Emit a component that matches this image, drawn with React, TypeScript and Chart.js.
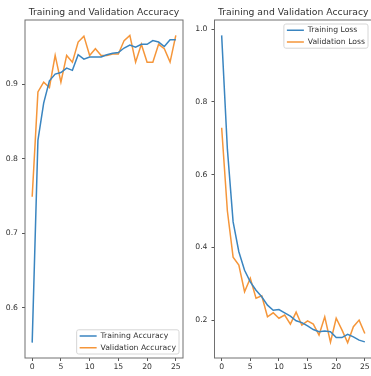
import React, { useEffect, useRef } from 'react';
import { Chart, registerables } from 'chart.js';

Chart.register(...registerables);

// ---- data ----
const epochs = [0, 1, 2, 3, 4, 5, 6, 7, 8, 9, 10, 11, 12, 13, 14, 15, 16, 17, 18, 19, 20, 21, 22, 23, 24, 25];
const trainAcc = [0.553, 0.825, 0.875, 0.905, 0.914, 0.916, 0.922, 0.919, 0.940, 0.934, 0.937, 0.937, 0.937, 0.940, 0.942, 0.943, 0.949, 0.953, 0.950, 0.954, 0.954, 0.959, 0.957, 0.951, 0.960, 0.960];
const valAcc = [0.749, 0.890, 0.903, 0.896, 0.939, 0.903, 0.939, 0.930, 0.957, 0.965, 0.939, 0.948, 0.939, 0.939, 0.941, 0.941, 0.959, 0.966, 0.930, 0.954, 0.930, 0.930, 0.954, 0.948, 0.930, 0.966];
const trainLoss = [0.983, 0.670, 0.470, 0.388, 0.337, 0.305, 0.282, 0.264, 0.241, 0.227, 0.229, 0.220, 0.211, 0.198, 0.193, 0.184, 0.174, 0.168, 0.170, 0.168, 0.152, 0.152, 0.161, 0.154, 0.145, 0.140];
const valLoss = [0.729, 0.500, 0.373, 0.351, 0.278, 0.315, 0.260, 0.267, 0.209, 0.220, 0.205, 0.214, 0.189, 0.222, 0.186, 0.198, 0.189, 0.159, 0.209, 0.139, 0.205, 0.173, 0.138, 0.182, 0.200, 0.163];
const xTicks = [0, 5, 10, 15, 20, 25];
const accTicks = [0.6, 0.7, 0.8, 0.9];
const lossTicks = [0.2, 0.4, 0.6, 0.8, 1.0];
const leftTitle = 'Training and Validation Accuracy';
const rightTitle = 'Training and Validation Accuracy';
const accLabels = ['Training Accuracy', 'Validation Accuracy'];
const lossLabels = ['Training Loss', 'Validation Loss'];

// ---- style ----
const FONT = 'DejaVu Sans';
const TICK_SIZE = 7.7;
const TITLE_SIZE = 9.25;
const TEXT = '#333333';
const BLUE = '#3a85c0';
const ORANGE = '#f5963a';
const SPINE = '#707070';
const LEG_PAD = 4;
const LEG_LINE = 17;

function paddedRange(arrs: number[][]) {
  const all = arrs.flat();
  const lo = Math.min(...all);
  const hi = Math.max(...all);
  const m = (hi - lo) * 0.05;
  return { min: lo - m, max: hi + m };
}

const mplPlugin = {
  id: 'mplLook',
  afterLayout(chart: any, _args: any, opts: any) {
    const lg = chart.legend;
    if (!lg) return;
    const ca = chart.chartArea;
    const ctx = chart.ctx;
    ctx.save();
    ctx.font = `${TICK_SIZE}px "${FONT}"`;
    const texts = chart.data.datasets.map((d: any) => d.label);
    const tw = Math.max(...texts.map((t: string) => ctx.measureText(t).width));
    ctx.restore();
    const n = texts.length;
    const contentW = LEG_LINE + TICK_SIZE / 2 + tw;
    const rowsH = n * TICK_SIZE + (n - 1) * LEG_PAD;
    const innerH = 3;
    const innerV = 2.4;
    const gap = 4;
    const fw = contentW + 2 * innerH;
    const fh = rowsH + 2 * innerV;
    const fx = ca.right - gap - fw;
    const fy = opts.corner === 'bottom' ? ca.bottom - gap - fh : ca.top + gap;
    chart.$legFrame = { x: fx, y: fy, w: fw, h: fh };
    lg.left = fx + innerH - LEG_PAD;
    lg.top = fy + innerV - LEG_PAD;
    lg.width = fw + 2 * LEG_PAD + 10;
    lg.height = fh + 2 * LEG_PAD + 10;
    lg.right = lg.left + lg.width;
    lg.bottom = lg.top + lg.height;
  },
  beforeDraw(chart: any) {
    const f = chart.$legFrame;
    if (!f) return;
    const ctx = chart.ctx;
    ctx.save();
    ctx.beginPath();
    if (ctx.roundRect) ctx.roundRect(f.x, f.y, f.w, f.h, 2);
    else ctx.rect(f.x, f.y, f.w, f.h);
    ctx.fillStyle = 'rgba(255,255,255,0.8)';
    ctx.fill();
    ctx.strokeStyle = '#d6d6d6';
    ctx.lineWidth = 1;
    ctx.stroke();
    ctx.restore();
  },
  afterDraw(chart: any) {
    const ca = chart.chartArea;
    const ctx = chart.ctx;
    ctx.save();
    ctx.strokeStyle = SPINE;
    ctx.lineWidth = 1;
    ctx.strokeRect(ca.left, ca.top, ca.right - ca.left, ca.bottom - ca.top);
    ctx.restore();
  },
};

function makeConfig(
  title: string,
  labels: string[],
  a: number[],
  b: number[],
  yTicks: number[],
  corner: string,
  yWidth: number,
  rightPad: number
): any {
  const yr = paddedRange([a, b]);
  const xr = paddedRange([epochs]);
  const mk = (arr: number[]) => epochs.map((e, i) => ({ x: e, y: arr[i] }));
  return {
    type: 'line',
    data: {
      datasets: [
        { label: labels[0], data: mk(a), borderColor: BLUE, backgroundColor: BLUE, borderWidth: 1.5, pointRadius: 0, tension: 0 },
        { label: labels[1], data: mk(b), borderColor: ORANGE, backgroundColor: ORANGE, borderWidth: 1.5, pointRadius: 0, tension: 0 },
      ],
    },
    options: {
      responsive: false,
      animation: false,
      devicePixelRatio: 1,
      layout: { padding: { left: 0, right: rightPad, top: 0, bottom: 0 } },
      plugins: {
        tooltip: { enabled: false },
        title: {
          display: true,
          text: title,
          fullSize: false,
          color: TEXT,
          font: { family: FONT, size: TITLE_SIZE, weight: 'normal' },
          padding: { top: 7, bottom: 1.9 },
        },
        legend: {
          display: true,
          position: 'chartArea',
          align: 'start',
          labels: {
            usePointStyle: true,
            pointStyle: 'line',
            pointStyleWidth: LEG_LINE,
            padding: LEG_PAD,
            color: TEXT,
            font: { family: FONT, size: TICK_SIZE },
          },
        },
        mplLook: { corner },
      },
      scales: {
        x: {
          type: 'linear',
          min: xr.min,
          max: xr.max,
          afterBuildTicks: (s: any) => { s.ticks = xTicks.map((v) => ({ value: v })); },
          afterFit: (s: any) => { s.height = 18; },
          ticks: { color: TEXT, font: { family: FONT, size: TICK_SIZE }, padding: 1, maxRotation: 0, autoSkip: false },
          grid: { display: true, drawOnChartArea: false, drawTicks: true, tickLength: 3, color: '#555' },
          border: { display: false },
        },
        y: {
          type: 'linear',
          min: yr.min,
          max: yr.max,
          afterBuildTicks: (s: any) => { s.ticks = yTicks.map((v) => ({ value: v })); },
          afterFit: (s: any) => { s.width = yWidth; },
          ticks: {
            color: TEXT,
            font: { family: FONT, size: TICK_SIZE },
            padding: 4,
            autoSkip: false,
            callback: (v: any) => Number(v).toFixed(1),
          },
          grid: { display: true, drawOnChartArea: false, drawTicks: true, tickLength: 3, color: '#555' },
          border: { display: false },
        },
      },
    },
    plugins: [mplPlugin],
  };
}

export default function App() {
  const r1 = useRef<HTMLCanvasElement>(null);
  const r2 = useRef<HTMLCanvasElement>(null);
  useEffect(() => {
    const c1 = new Chart(r1.current as HTMLCanvasElement, makeConfig(leftTitle, accLabels, trainAcc, valAcc, accTicks, 'bottom', 25, 7));
    const c2 = new Chart(r2.current as HTMLCanvasElement, makeConfig(rightTitle, lossLabels, trainLoss, valLoss, lossTicks, 'top', 24.5, 8));
    return () => {
      c1.destroy();
      c2.destroy();
    };
  }, []);
  return (
    <div style={{ position: 'absolute', left: 0, top: 0, width: 371, height: 376, overflow: 'hidden', background: '#fff' }}>
      <canvas ref={r1} width={190} height={376} style={{ position: 'absolute', left: 0, top: 0, width: 190, height: 376 }} />
      <canvas ref={r2} width={190} height={376} style={{ position: 'absolute', left: 190, top: 0, width: 190, height: 376 }} />
    </div>
  );
}
